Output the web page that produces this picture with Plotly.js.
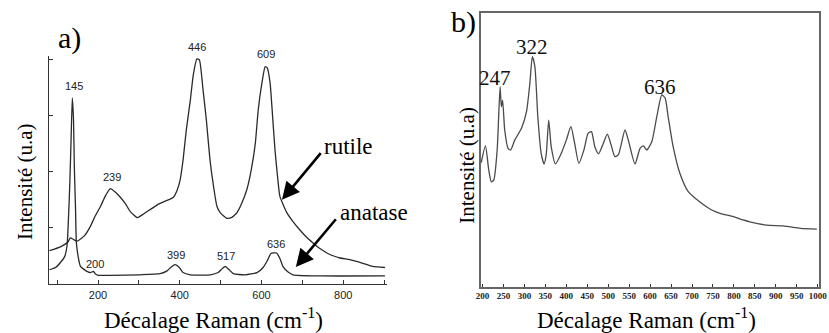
<!DOCTYPE html>
<html>
<head>
<meta charset="utf-8">
<script src="https://cdn.plot.ly/plotly-3.0.1.min.js"></script>
<style>html,body{margin:0;padding:0;background:#fff;}#chart{width:829px;height:333px;}</style>
</head>
<body>
<div id="chart"></div>
<script>
// ---- Panel a) : rutile & anatase Raman spectra ----
const rutileX = [81,108,127,132,140,149,167,181,193,206,218,230,242,254,267,279,296,308,320,345,372,384,394,401,408,416,426,433,442,448,457,465,474,482,491,499,515,526,540,550,564,575,585,592,601,609,614,621,626,633,640,645,662,677,694,709,726,743,760,775,792,816,841,872,902];
const rutileY = [0.59,0.66,0.75,0.82,0.79,0.76,0.86,1.02,1.21,1.38,1.57,1.70,1.64,1.55,1.43,1.29,1.18,1.23,1.29,1.41,1.50,1.54,1.68,1.86,2.21,2.75,3.29,3.73,4.02,4.0,3.46,2.93,2.21,1.77,1.38,1.27,1.17,1.18,1.27,1.41,1.68,2.04,2.52,3.11,3.59,3.88,3.86,3.59,3.11,2.39,1.86,1.56,1.27,1.11,0.96,0.84,0.73,0.63,0.55,0.50,0.46,0.43,0.38,0.31,0.29];
const anataseX = [81,96,108,118,124,127,131,134,137,140,142,145,147,152,157,173,181,189,193,201,230,303,352,369,379,389,399,408,426,475,494,504,511,521,531,560,589,604,614,623,637,645,653,665,677,743,902];
const anataseY = [0.25,0.29,0.38,0.48,0.67,1.05,1.80,2.57,3.32,2.93,2.09,1.32,0.73,0.46,0.31,0.22,0.20,0.22,0.18,0.15,0.15,0.16,0.18,0.23,0.30,0.34,0.29,0.20,0.16,0.16,0.20,0.27,0.31,0.25,0.18,0.16,0.20,0.29,0.41,0.54,0.55,0.45,0.30,0.21,0.16,0.14,0.14];
const peakLabelsA = ['145','239','200','399','517','636'];
const peakLabelAX = [142,235,193,391,513,635];
const peakLabelAY = [3.54,1.91,0.36,0.52,0.50,0.71];
const topLabelsA = ['446','609'];
const topLabelAX = [0.2376,0.3209];
const topLabelAY = [0.8589,0.8378];
const yTickValsA = [0,1,2,3,4];
const yZeroLabel = '0';
const xTickValsA = [200,400,600,800];

// ---- Panel b) : sample spectrum ----
const sampleX = [197,207,215,221,227,235,242,245,248,253,261,267,277,293,305,313,319,325,332,340,347,352,358,364,374,388,400,411,420,430,442,452,460,468,477,488,498,507,516,524,540,548,564,576,584,592,604,616,628,636,643,655,671,691,719,747,767,799,822,838,878,918,959,998];
const sampleY = [45.4,51.5,42.7,38.4,39.1,50.0,73.1,65.8,68.2,57.3,50.6,50.0,53.6,57.9,64.0,74.3,84.1,80.4,62.2,48.8,44.9,48.2,60.9,51.2,44.9,48.8,53.6,58.5,52.4,45.1,50.0,56.1,56.7,51.2,48.6,52.3,55.8,51.8,47.6,48.2,57.3,53.6,44.9,50.6,51.5,50.0,53.0,62.2,70.1,68.9,62.2,51.2,41.5,34.8,31.0,28.1,26.9,25.7,24.5,23.8,22.6,22.3,21.4,21.1];
const peakLabelsB = ['247','322','636'];
const peakLabelBX = [231,319,624];
const peakLabelBY = [76.3,87.6,73.0];
const xTickValsB = [200,250,300,350,400,450,500,550,600,650,700,750,800,850,900,950,1000];

const serif = 'Liberation Serif, Times New Roman, serif';
const sans = 'Liberation Sans, Arial, sans-serif';

const traces = [
  {x: rutileX, y: rutileY, xaxis:'x', yaxis:'y', mode:'lines', line:{color:'#2a2a2a', width:1.3, shape:'spline', smoothing:0.5}, hoverinfo:'skip'},
  {x: anataseX, y: anataseY, xaxis:'x', yaxis:'y', mode:'lines', line:{color:'#2a2a2a', width:1.3, shape:'spline', smoothing:0.5}, hoverinfo:'skip'},
  {x: sampleX, y: sampleY, xaxis:'x2', yaxis:'y2', mode:'lines', line:{color:'#4a4a4a', width:1.3, shape:'spline', smoothing:0.6}, hoverinfo:'skip'},
  // "0" label of panel a's intensity axis, drawn as text just left of the axis
  {x:[62], y:[yTickValsA[0]], xaxis:'x', yaxis:'y', mode:'text', text:[yZeroLabel], textposition:'middle center',
   cliponaxis:false, textfont:{family:sans, size:11, color:'#222'}, hoverinfo:'skip'}
];

const C = {xanchor:'center', yanchor:'middle', showarrow:false};
const ann = [];
ann.push({x:650, y:1.5, ax:748, ay:2.36, xref:'x', yref:'y', axref:'x', ayref:'y', text:'', showarrow:true, arrowhead:2, arrowsize:1.35, arrowwidth:2.6, arrowcolor:'#000'});
ann.push({x:684, y:0.30, ax:785, ay:1.18, xref:'x', yref:'y', axref:'x', ayref:'y', text:'', showarrow:true, arrowhead:2, arrowsize:1.35, arrowwidth:2.6, arrowcolor:'#000'});
ann.push(Object.assign({x:0.0844, y:0.886, xref:'paper', yref:'paper', text:'a)', font:{family:serif, size:30, color:'#000'}}, C));
ann.push(Object.assign({x:0.5597, y:0.934, xref:'paper', yref:'paper', text:'b)', font:{family:serif, size:30, color:'#000'}}, C));
ann.push(Object.assign({x:0.0302, y:0.4535, xref:'paper', yref:'paper', text:'Intensité (u.a)', textangle:-90, font:{family:serif, size:21, color:'#000'}}, C));
ann.push(Object.assign({x:0.2581, y:0.045, xref:'paper', yref:'paper', text:'Décalage Raman (cm<sup>-1</sup>)', font:{family:serif, size:23, color:'#000'}}, C));
ann.push(Object.assign({x:0.563, y:0.5045, xref:'paper', yref:'paper', text:'Intensité (u.a)', textangle:-90, font:{family:serif, size:21, color:'#000'}}, C));
ann.push(Object.assign({x:0.7804, y:0.045, xref:'paper', yref:'paper', text:'Décalage Raman (cm<sup>-1</sup>)', font:{family:serif, size:23, color:'#000'}}, C));
ann.push({x:748, y:2.45, xref:'x', yref:'y', xanchor:'left', yanchor:'middle', text:'rutile', showarrow:false, font:{family:serif, size:23, color:'#000'}});
ann.push({x:787, y:1.27, xref:'x', yref:'y', xanchor:'left', yanchor:'middle', text:'anatase', showarrow:false, font:{family:serif, size:23, color:'#000'}});
peakLabelsA.forEach((t,i)=>ann.push(Object.assign({x:peakLabelAX[i], y:peakLabelAY[i], xref:'x', yref:'y', text:t, font:{family:sans, size:11, color:'#222'}}, C)));
topLabelsA.forEach((t,i)=>ann.push(Object.assign({x:topLabelAX[i], y:topLabelAY[i], xref:'paper', yref:'paper', text:t, font:{family:sans, size:11, color:'#222'}}, C)));
peakLabelsB.forEach((t,i)=>ann.push(Object.assign({x:peakLabelBX[i], y:peakLabelBY[i], xref:'x2', yref:'y2', text:t, font:{family:serif, size:21, color:'#111'}}, C)));

const layout = {
  width:829, height:333, margin:{l:0,r:0,t:0,b:0},
  paper_bgcolor:'#fff', plot_bgcolor:'rgba(0,0,0,0)', showlegend:false,
  xaxis:{domain:[0.0591,0.4668], range:[80,907], tickmode:'array', tickvals:xTickValsA,
         ticks:'inside', ticklen:4, tickcolor:'#333', showline:true, linecolor:'#333', linewidth:1.3,
         minor:{tickmode:'linear', tick0:0, dtick:100, ticks:'inside', ticklen:4, tickcolor:'#333'},
         showgrid:false, zeroline:false, tickfont:{family:sans, size:11, color:'#222'}, anchor:'y'},
  yaxis:{domain:[0.1471,0.8318], range:[-0.005,4.07], tickmode:'array', tickvals:yTickValsA, showticklabels:false,
         ticks:'inside', ticklen:4, tickcolor:'#333', showline:true, linecolor:'#333', linewidth:1.3,
         showgrid:false, zeroline:false, anchor:'x'},
  xaxis2:{domain:[0.5802,0.9879], range:[196.4,1003], tickmode:'array', tickvals:xTickValsB,
         ticks:'inside', ticklen:3, tickcolor:'#333', showline:true, mirror:true, linecolor:'#666', linewidth:1.6,
         showgrid:false, zeroline:false, tickfont:{family:serif, size:9, color:'#222', weight:'bold'}, anchor:'y2'},
  yaxis2:{domain:[0.1381,0.961], range:[0,100], showticklabels:false, ticks:'',
         showline:true, mirror:true, linecolor:'#666', linewidth:1.6, showgrid:false, zeroline:false, anchor:'x2'},
  annotations: ann
};
Plotly.newPlot('chart', traces, layout, {staticPlot:true, displayModeBar:false});
</script>
</body>
</html>
